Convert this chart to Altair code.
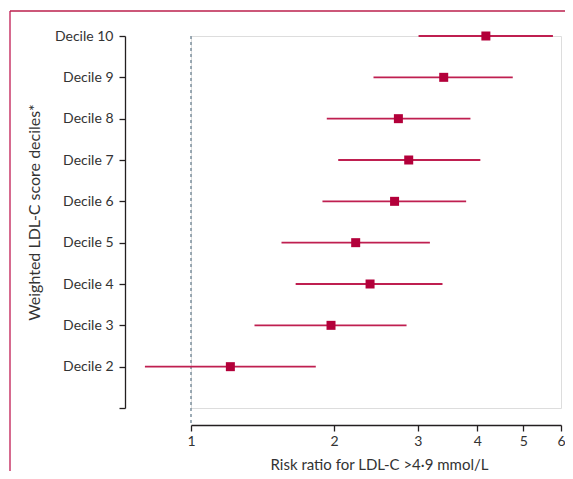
import altair as alt
import pandas as pd

deciles = [10, 9, 8, 7, 6, 5, 4, 3, 2]
risk_ratio = [4.17, 3.40, 2.73, 2.87, 2.68, 2.22, 2.38, 1.97, 1.21]
ci_low = [3.01, 2.42, 1.93, 2.04, 1.89, 1.55, 1.66, 1.36, 0.80]
ci_high = [5.77, 4.75, 3.87, 4.06, 3.79, 3.18, 3.38, 2.84, 1.83]
x_ticks = [1, 2, 3, 4, 5, 6]
y_ticks = [1, 2, 3, 4, 5, 6, 7, 8, 9, 10]

df = pd.DataFrame({"decile": deciles, "rr": risk_ratio, "lo": ci_low, "hi": ci_high})

RED = "#b3003a"
LINE = "#bf1f50"
FRAME = "#c9386a"
FONT = "Lato"

xscale = alt.Scale(type="log", domain=[1, 6], nice=False)
yscale = alt.Scale(domain=[1, 10], nice=False, zero=False)

xaxis = alt.Axis(
    values=x_ticks, format="d", offset=17, tickSize=6, labelPadding=3, labelFlush=False,
    grid=False, domainColor="#231f20", tickColor="#231f20", domainWidth=1.3, tickWidth=1.3,
    labelFontSize=14, labelColor="#333333", labelFont=FONT,
    title="Risk ratio for LDL-C >4·9 mmol/L", titleFont=FONT, titleFontSize=15,
    titleFontWeight="normal", titleColor="#333333", titleX=188, titleY=44,
    titleAlign="center", titleBaseline="alphabetic", titleAnchor="start",
)
yaxis = alt.Axis(
    values=y_ticks, labelExpr="datum.value >= 2 ? 'Decile ' + datum.value : ''",
    offset=66, tickSize=6, labelPadding=6, grid=False, labelFlush=False,
    domainColor="#231f20", tickColor="#231f20", domainWidth=1.3, tickWidth=1.3,
    labelFontSize=14, labelColor="#333333", labelFont=FONT,
    title="Weighted LDL-C score deciles*", titleFont=FONT, titleFontSize=16,
    titleFontWeight="normal", titleColor="#333333", titleX=-86, titleY=176,
    titleAngle=270, titleAlign="center", titleBaseline="alphabetic", titleAnchor="start",
)

base = alt.Chart(df)

ci = base.mark_rule(color=LINE, strokeWidth=1.8).encode(
    x=alt.X("lo:Q", scale=xscale, axis=xaxis),
    x2="hi:Q",
    y=alt.Y("decile:Q", scale=yscale, axis=yaxis),
)
pts = base.mark_square(color=RED, size=81, opacity=1).encode(
    x=alt.X("rr:Q", scale=xscale),
    y=alt.Y("decile:Q", scale=yscale),
)
ref = alt.Chart(pd.DataFrame({"v": [1]})).mark_rule(
    color="#7d919e", strokeWidth=1.5, strokeDash=[3, 3]
).encode(x=alt.X("v:Q", scale=xscale), y=alt.value(0), y2=alt.value(389))

frame_left = alt.Chart(pd.DataFrame({"a": [0]})).mark_rule(color=FRAME, strokeWidth=1.5).encode(
    x=alt.value(-181), y=alt.value(-25), y2=alt.value(440)
)
frame_top = alt.Chart(pd.DataFrame({"a": [0]})).mark_rule(color="#bb1f4c", strokeWidth=1.5).encode(
    x=alt.value(-181), x2=alt.value(380), y=alt.value(-25)
)

chart = alt.layer(frame_left, frame_top, ref, ci, pts).properties(
    width=370, height=372,
    autosize=alt.AutoSizeParams(type="none"),
    padding={"left": 183, "top": 28, "right": 4, "bottom": 63},
).configure_view(stroke=None).configure(background="white")

chart.save("out.html", embed_options={"renderer": "svg", "actions": False})
